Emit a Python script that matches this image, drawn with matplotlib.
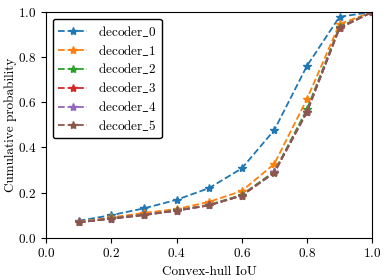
import matplotlib
matplotlib.use("Agg")
import matplotlib.pyplot as plt

plt.rcParams["font.family"] = ["cmr10", "DejaVu Serif"]
plt.rcParams["mathtext.fontset"] = "cm"
plt.rcParams["mathtext.rm"] = "cmr10"
plt.rcParams["axes.formatter.use_mathtext"] = True
plt.rcParams["font.size"] = 9.5

iou = [0.1, 0.2, 0.3, 0.4, 0.5, 0.6, 0.7, 0.8, 0.9, 1.0]
labels = ["decoder_0", "decoder_1", "decoder_2", "decoder_3", "decoder_4", "decoder_5"]

decoder_0 = [0.075, 0.100, 0.130, 0.168, 0.220, 0.307, 0.477, 0.761, 0.979, 1.0]
decoder_1 = [0.070, 0.090, 0.110, 0.127, 0.159, 0.207, 0.327, 0.614, 0.947, 1.0]
decoder_2 = [0.068, 0.086, 0.102, 0.121, 0.146, 0.190, 0.293, 0.569, 0.935, 1.0]
decoder_3 = [0.068, 0.085, 0.101, 0.120, 0.144, 0.187, 0.289, 0.558, 0.930, 1.0]
decoder_4 = [0.068, 0.085, 0.101, 0.120, 0.144, 0.187, 0.289, 0.557, 0.929, 1.0]
decoder_5 = [0.068, 0.084, 0.100, 0.120, 0.143, 0.186, 0.288, 0.556, 0.928, 1.0]
series = [decoder_0, decoder_1, decoder_2, decoder_3, decoder_4, decoder_5]

fig, ax = plt.subplots(figsize=(3.88, 2.8), dpi=100)
for lab, vals in zip(labels, series):
    # mathtext so the underscore is drawn as an underscore in cm fonts
    tex_lab = r"$\mathrm{" + lab.replace("_", r"\_") + "}$"
    ax.plot(iou, vals, "--*", label=tex_lab, linewidth=1.3, markersize=6)

ax.set_xlim(0, 1)
ax.set_ylim(0, 1)
ax.set_xlabel("Convex-hull IoU")
ax.set_ylabel("Cumulative probability", labelpad=0.5)
ax.legend(loc="upper left", edgecolor="black", framealpha=1, fancybox=True,
          fontsize=9.5, labelspacing=0.3, handlelength=2.2)

fig.subplots_adjust(left=0.119, right=0.959, top=0.957, bottom=0.151)
fig.savefig("out.png", dpi=100)
